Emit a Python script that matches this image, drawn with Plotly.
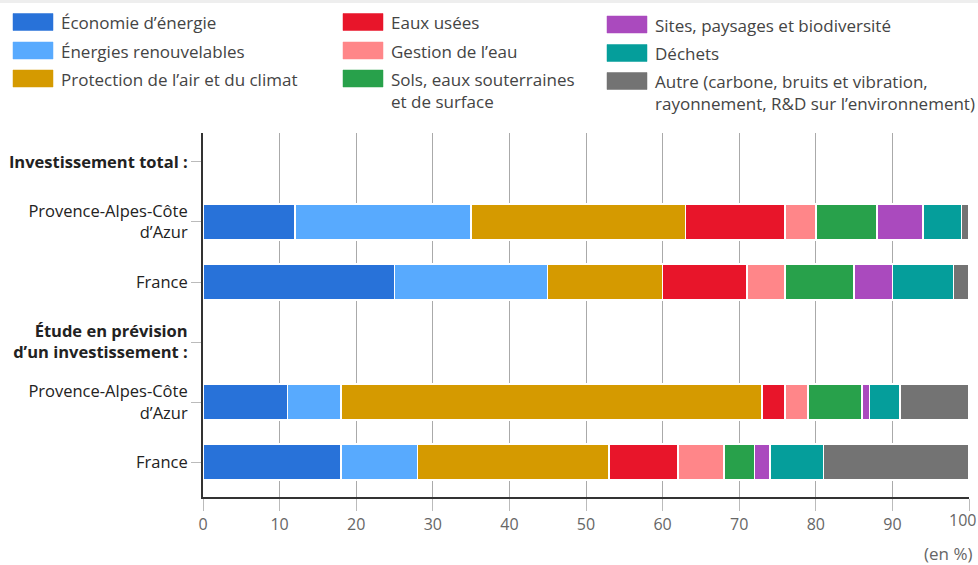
import plotly.graph_objects as go

W, H = 978, 565
ML, MR, MT, MB = 203, 9, 133, 68
PW, PH = W - ML - MR, H - MT - MB

# Rows (top to bottom), headers have no bars
row_labels = [
    "<b>Investissement total :</b>",
    "Provence-Alpes-Côte<br>d’Azur",
    "France",
    "<b>Étude en prévision<br>d’un investissement :</b>",
    "Provence-Alpes-Côte<br>d’Azur",
    "France",
]
bar_rows = [1, 2, 4, 5]  # positions of the four bars

x_ticks = [0, 10, 20, 30, 40, 50, 60, 70, 80, 90, 100]

series_names = [
    "Économie d’énergie",
    "Énergies renouvelables",
    "Protection de l’air et du climat",
    "Eaux usées",
    "Gestion de l’eau",
    "Sols, eaux souterraines<br>et de surface",
    "Sites, paysages et biodiversité",
    "Déchets",
    "Autre (carbone, bruits et vibration,<br>rayonnement, R&D sur l’environnement)",
]
colors = ["#2872D9", "#58AAFE", "#D59A00", "#E8152A", "#FF8689",
          "#28A14B", "#AA4ABE", "#059E9B", "#737373"]

# values (en %) for: PACA total, France total, PACA étude, France étude
economie = [12, 25, 11, 18]
renouvelables = [23, 20, 7, 10]
air_climat = [28, 15, 55, 25]
eaux_usees = [13, 11, 3, 9]
gestion_eau = [4, 5, 3, 6]
sols = [8, 9, 7, 4]
sites = [6, 5, 1, 2]
dechets = [5, 8, 4, 7]
autre = [1, 2, 9, 19]
series_values = [economie, renouvelables, air_climat, eaux_usees, gestion_eau,
                 sols, sites, dechets, autre]

FONT = "Open Sans"

fig = go.Figure()
for name, vals, col in zip(series_names, series_values, colors):
    fig.add_trace(go.Bar(
        x=vals, y=bar_rows, orientation="h", name=name,
        marker=dict(color=col, line=dict(color="white", width=1.5)),
        showlegend=False,
    ))

def px_x(x):
    return (x - ML) / PW

def px_y(y):
    return (H - MB - y) / PH

shapes = []
annotations = []
# top light strip
shapes.append(dict(type="rect", xref="paper", yref="paper",
                   x0=px_x(0), x1=px_x(W), y0=px_y(3), y1=px_y(0),
                   fillcolor="#EEEEEE", line=dict(width=0), layer="below"))

legend_pos = [
    (13, 22), (13, 50.5), (13, 78.5),
    (343, 22), (343, 50.5), (343, 78.5),
    (607, 24.5), (607, 53), (607, 81),
]
for (lx, ly), name, col in zip(legend_pos, series_names, colors):
    shapes.append(dict(type="rect", xref="paper", yref="paper",
                       x0=px_x(lx), x1=px_x(lx + 40),
                       y0=px_y(ly + 8.5), y1=px_y(ly - 8.5),
                       fillcolor=col, line=dict(color=col, width=0.5)))
    annotations.append(dict(
        x=px_x(lx + 46), y=px_y(ly - 13), xref="paper", yref="paper",
        xanchor="left", yanchor="top", align="left", showarrow=False,
        text=name, font=dict(family=FONT, size=17, color="#444444"),
    ))

# last x tick label kept inside the chart
annotations.append(dict(
    x=x_ticks[-1], y=px_y(520), xref="x", yref="paper",
    xanchor="right", yanchor="middle", xshift=9, showarrow=False,
    text=str(x_ticks[-1]), font=dict(family=FONT, size=16, color="#666666"),
))

annotations.append(dict(
    x=px_x(974), y=px_y(553), xref="paper", yref="paper",
    xanchor="right", yanchor="middle", showarrow=False,
    text="(en %)", font=dict(family=FONT, size=17, color="#666666"),
))

fig.update_layout(
    width=W, height=H,
    margin=dict(l=ML, r=MR, t=MT, b=MB),
    barmode="stack", bargap=0.4,
    plot_bgcolor="white", paper_bgcolor="white",
    font=dict(family=FONT, size=16, color="#333333"),
    shapes=shapes, annotations=annotations,
    xaxis=dict(
        range=[0, 100],
        tickmode="array", tickvals=x_ticks,
        ticktext=[str(v) for v in x_ticks[:-1]] + [""],
        showgrid=True, gridcolor="#AAAAAA", gridwidth=1,
        ticks="outside", ticklen=12, tickcolor="#BBBBBB",
        showline=True, linecolor="#333333", linewidth=2,
        tickfont=dict(family=FONT, size=16, color="#666666"),
        zeroline=False, fixedrange=True,
    ),
    yaxis=dict(
        range=[5.583, -0.483],
        tickmode="array", tickvals=list(range(6)), ticktext=row_labels,
        ticks="outside", ticklen=10, tickcolor="#BBBBBB",
        showline=True, linecolor="#333333", linewidth=2,
        showgrid=False, zeroline=False,
        tickfont=dict(family=FONT, size=16.5, color="#222222"),
    ),
)

fig.write_html("out.html", config={"displayModeBar": False},
               post_script="document.body.style.margin='0';document.body.style.overflow='hidden';")
